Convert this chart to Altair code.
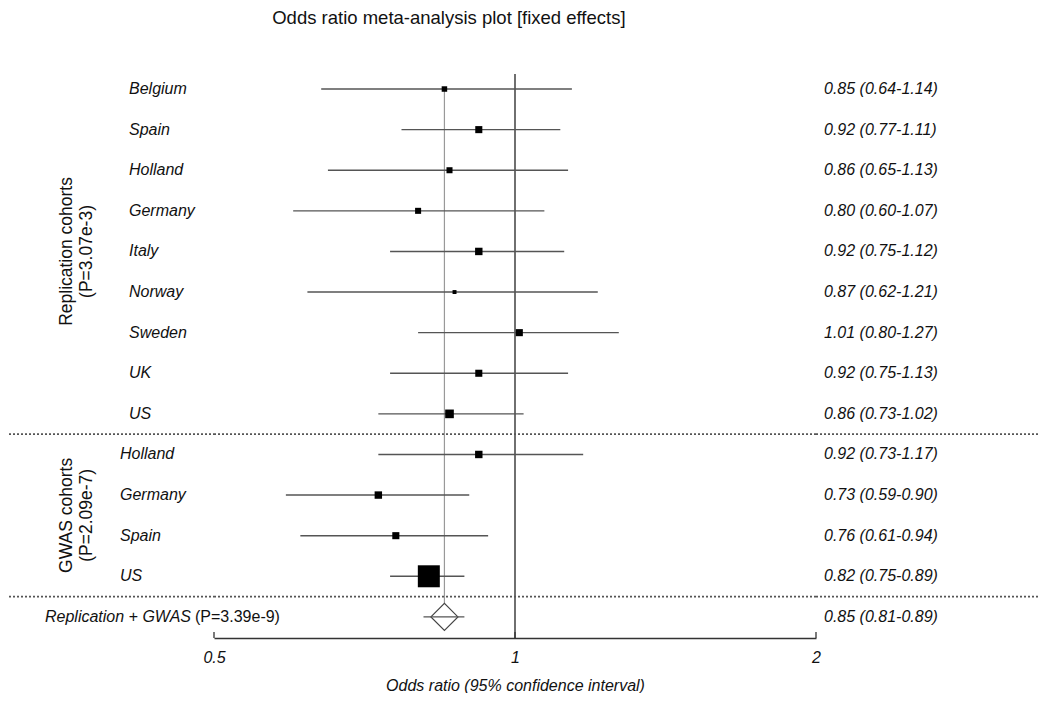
import altair as alt
import pandas as pd

# ---------------- data ----------------
cohorts = ["Belgium", "Spain", "Holland", "Germany", "Italy", "Norway", "Sweden", "UK", "US",
           "Holland", "Germany", "Spain", "US"]
groups = ["Replication"] * 9 + ["GWAS"] * 4
odds_ratio = [0.85, 0.92, 0.86, 0.80, 0.92, 0.87, 1.01, 0.92, 0.86, 0.92, 0.73, 0.76, 0.82]
ci_low = [0.64, 0.77, 0.65, 0.60, 0.75, 0.62, 0.80, 0.75, 0.73, 0.73, 0.59, 0.61, 0.75]
ci_high = [1.14, 1.11, 1.13, 1.07, 1.12, 1.21, 1.27, 1.13, 1.02, 1.17, 0.90, 0.94, 0.89]
weight = [2.9, 4.8, 3.5, 3.5, 5.3, 1.5, 4.8, 4.8, 7.2, 5.3, 5.3, 4.8, 46.4]

pooled_or = [0.85]
pooled_low = [0.81]
pooled_high = [0.89]

group_names = ["Replication", "GWAS"]
group_labels = ["Replication cohorts\n(P=3.07e-3)", "GWAS cohorts\n(P=2.09e-7)"]
combined_label = ["Replication + GWAS"]
combined_p = ["(P=3.39e-9)"]
x_ticks = [0.5, 1, 2]
ref_value = [1]

title_text = "Odds ratio meta-analysis plot [fixed effects]"
x_title = "Odds ratio (95% confidence interval)"

# ---------------- tables ----------------
FONT = "Liberation Sans"
n = len(cohorts)
rows = list(range(1, n + 1))
pooled_row = n + 1

df = pd.DataFrame({
    "cohort": cohorts, "group": groups, "or": odds_ratio,
    "lo": ci_low, "hi": ci_high, "w": weight, "row": rows,
})
df["label"] = [f"{o:.2f} ({l:.2f}-{h:.2f})" for o, l, h in zip(odds_ratio, ci_low, ci_high)]

pooled = pd.DataFrame({"or": pooled_or, "lo": pooled_low, "hi": pooled_high, "row": [pooled_row]})
pooled["label"] = [f"{o:.2f} ({l:.2f}-{h:.2f})" for o, l, h in zip(pooled_or, pooled_low, pooled_high)]
pooled["top"] = [1]

grp = pd.DataFrame({
    "label": group_labels,
    "row": [df.loc[df.group == g, "row"].mean() for g in group_names],
})
seps = pd.DataFrame({"row": [df.loc[df.group == g, "row"].max() + 0.5 for g in group_names]})

right_df = pd.concat([df[["row", "label"]], pooled[["row", "label"]]], ignore_index=True)
comb = pd.DataFrame({"row": [pooled_row], "a": combined_label, "b": combined_p})
ticks_df = pd.DataFrame({"x": x_ticks})
ref_df = pd.DataFrame({"x": ref_value})

# ---------------- layout ----------------
H = 564
W_LEFT, W_MID, W_RIGHT = 205, 602, 222
yscale = alt.Scale(domain=[0.63, 14.52], reverse=True, zero=False, nice=False)
xscale = alt.Scale(type="log", domain=[0.5, 2], nice=False)
xaxis = alt.Axis(
    values=x_ticks, title=x_title, ticks=False, tickSize=0, grid=False,
    labelFlush=False, labelFont=FONT, labelFontSize=16, labelFontStyle="italic",
    labelColor="#111", labelPadding=11, labelExpr="datum.value + ''",
    titleFont=FONT, titleFontSize=16, titleFontStyle="italic", titleFontWeight="normal",
    titleColor="#111", titlePadding=12, domainColor="#333", domainWidth=1.3,
)


def Y(field="row:Q"):
    return alt.Y(field, scale=yscale, axis=None)


def X(field):
    return alt.X(field, scale=xscale, axis=xaxis)


def sep_layer(width):
    return alt.Chart(seps).mark_rule(color="#555", strokeWidth=1.6, strokeDash=[2, 2]).encode(
        y=Y(), x=alt.value(0), x2=alt.value(width))


# ---- middle panel ----
ref_rule = alt.Chart(ref_df).mark_rule(color="#222", strokeWidth=1.3).encode(
    x=X("x:Q"), y=alt.value(0), y2=alt.value(H))
pooled_rule = alt.Chart(pooled).mark_rule(color="#999", strokeWidth=1.2).encode(
    x=X("or:Q"), y=Y("top:Q"), y2="row:Q")
ci = alt.Chart(df).mark_rule(color="#555", strokeWidth=1.4).encode(
    x=X("lo:Q"), x2="hi:Q", y=Y())
squares = alt.Chart(df).mark_square(color="black", opacity=1).encode(
    x=X("or:Q"), y=Y(),
    size=alt.Size("w:Q", scale=alt.Scale(domain=[0, 100], range=[0, 1042]), legend=None))
diamond = alt.Chart(pooled).mark_point(
    shape="diamond", filled=True, fill="white", stroke="#444", strokeWidth=1.2,
    size=729, opacity=1).encode(x=X("or:Q"), y=Y())
pooled_ci = alt.Chart(pooled).mark_rule(color="#555", strokeWidth=1.4).encode(
    x=X("lo:Q"), x2="hi:Q", y=Y())
tick_marks = alt.Chart(ticks_df).mark_rule(color="#333", strokeWidth=1.3).encode(
    x=X("x:Q"), y=alt.value(H), y2=alt.value(H - 6))

mid = alt.layer(ref_rule, pooled_rule, ci, squares, diamond, pooled_ci, tick_marks,
                sep_layer(W_MID)).properties(width=W_MID, height=H)

# ---- left panel ----
txt = dict(font=FONT, fontSize=16, color="#111", baseline="middle")
rep_names = alt.Chart(df[df.group == "Replication"]).mark_text(
    align="left", fontStyle="italic", **txt).encode(x=alt.value(120), y=Y(), text="cohort:N")
gwas_names = alt.Chart(df[df.group == "GWAS"]).mark_text(
    align="left", fontStyle="italic", **txt).encode(x=alt.value(111), y=Y(), text="cohort:N")
grp_text = alt.Chart(grp).mark_text(
    align="center", angle=270, lineBreak="\n", lineHeight=20,
    font=FONT, fontSize=17.5, color="#111", baseline="middle").encode(
    x=alt.value(58), y=Y(), text="label:N")
comb_a = alt.Chart(comb).mark_text(align="right", fontStyle="italic", **txt).encode(
    x=alt.value(182), y=Y(), text="a:N")
comb_b = alt.Chart(comb).mark_text(align="left", **txt).encode(
    x=alt.value(186), y=Y(), text="b:N")

left = alt.layer(rep_names, gwas_names, grp_text, comb_a, comb_b,
                 sep_layer(W_LEFT)).properties(width=W_LEFT, height=H)

# ---- right panel ----
right_text = alt.Chart(right_df).mark_text(align="left", fontStyle="italic", **txt).encode(
    x=alt.value(8), y=Y(), text="label:N")
right = alt.layer(right_text, sep_layer(W_RIGHT)).properties(width=W_RIGHT, height=H)

chart = alt.hconcat(left, mid, right, spacing=0, bounds="flush").properties(
    title=alt.TitleParams(title_text, anchor="start", dx=264, font=FONT, fontSize=18.5,
                          fontWeight="normal", color="#111", offset=46),
    padding={"left": 0, "top": 0, "right": 0, "bottom": 0},
).configure_view(stroke=None).configure_concat(spacing=0)

chart.save("out.html", embed_options={"renderer": "svg", "actions": False})
